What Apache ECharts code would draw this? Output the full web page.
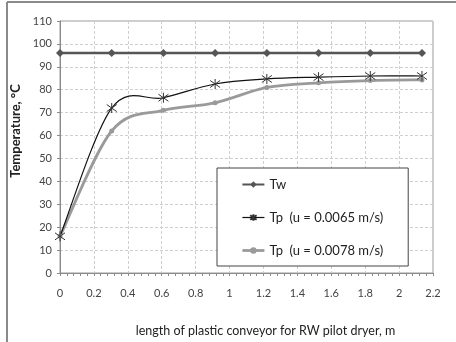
<!DOCTYPE html>
<html>
<head>
    <meta charset="utf-8">
    <title>Temperature along conveyor</title>
    <script type="text/javascript" src="https://cdn.jsdelivr.net/npm/echarts@6/dist/echarts.min.js"></script>
    <style>
        body {
            margin: 0px;
            padding: 0px;
            background: #fff;
        }
        #chart {
            width: 456px;
            height: 342px;
        }
    </style>
</head>
<body>
<div id="chart"></div>
<script type="text/javascript">
    // positions along the conveyor (m) - one foot steps
    var positions = [0, 0.305, 0.61, 0.915, 1.22, 1.525, 1.83, 2.135];
    var tw = [96, 96, 96, 96, 96, 96, 96, 96];
    var tpSlow = [16, 72, 76.5, 82.5, 84.7, 85.5, 86, 86];      // u = 0.0065 m/s
    var tpFast = [16, 62, 71, 74.3, 81, 83, 84, 84.3];          // u = 0.0078 m/s
    var seriesNames = ['Tw', 'Tp  (u = 0.0065 m/s)', 'Tp  (u = 0.0078 m/s)'];

    function pairs(xs, ys) {
        var out = [];
        for (var i = 0; i < xs.length; i++) {
            out.push([xs[i], ys[i]]);
        }
        return out;
    }

    // spreadsheet style smoothing (catmull-rom), one bezier piece per data item
    function smoothCurve(xs, ys, color, width) {
        return function (params, api) {
            var i = params.dataIndex;
            var n = xs.length;
            if (i >= n - 1) {
                return null;
            }
            var p = function (k) {
                k = Math.max(0, Math.min(n - 1, k));
                return api.coord([xs[k], ys[k]]);
            };
            var p0 = p(i - 1), p1 = p(i), p2 = p(i + 1), p3 = p(i + 2);
            var c1 = [p1[0] + (p2[0] - p0[0]) / 6, p1[1] + (p2[1] - p0[1]) / 6];
            var c2 = [p2[0] - (p3[0] - p1[0]) / 6, p2[1] - (p3[1] - p1[1]) / 6];
            return {
                type: 'bezierCurve',
                shape: {
                    x1: p1[0], y1: p1[1],
                    cpx1: c1[0], cpy1: c1[1],
                    cpx2: c2[0], cpy2: c2[1],
                    x2: p2[0], y2: p2[1]
                },
                style: {stroke: color, lineWidth: width, fill: null}
            };
        };
    }

    var font = 'Lato, "Open Sans", sans-serif';
    var starPath = 'path://M5,0L5,10M0,1.5L10,8.5M0,8.5L10,1.5';

    var chart = echarts.init(document.getElementById('chart'));
    var option = {
        animation: false,
        textStyle: {fontFamily: font},
        graphic: [
            {type: 'line', shape: {x1: 7, y1: 2, x2: 7, y2: 342}, style: {stroke: '#8a8a8a', lineWidth: 2}},
            {type: 'line', shape: {x1: 7, y1: 2, x2: 456, y2: 2}, style: {stroke: '#8a8a8a', lineWidth: 2}}
        ],
        grid: {
            left: 60,
            right: 23,
            top: 21,
            bottom: 69,
            show: true,
            borderColor: '#9a9a9a',
            borderWidth: 1
        },
        legend: {
            orient: 'vertical',
            left: 217,
            top: 168,
            data: [
                {name: seriesNames[0]},
                {name: seriesNames[1], lineStyle: {color: '#111', width: 1.2, opacity: 1}},
                {name: seriesNames[2], lineStyle: {color: '#9a9a9a', width: 2.8, opacity: 1}}
            ],
            backgroundColor: '#fff',
            borderColor: '#444',
            borderWidth: 1,
            padding: [10, 25, 9, 24],
            itemGap: 20,
            itemWidth: 22,
            itemHeight: 8,
            textStyle: {fontFamily: font, fontSize: 13, color: '#222'}
        },
        xAxis: {
            type: 'value',
            min: 0,
            max: 2.2,
            interval: 0.2,
            name: 'length of plastic conveyor for RW pilot dryer, m',
            nameLocation: 'middle',
            nameGap: 51,
            nameTextStyle: {fontFamily: font, fontSize: 12.5, color: '#222', padding: [0, 0, 0, 38]},
            axisLine: {lineStyle: {color: '#8a8a8a'}},
            axisTick: {show: true, length: 3, lineStyle: {color: '#8a8a8a'}},
            minorTick: {show: true, splitNumber: 5, length: 3, lineStyle: {color: '#8a8a8a'}},
            axisLabel: {margin: 15, fontSize: 11, color: '#444'},
            splitLine: {show: true, lineStyle: {color: '#cfcfcf', type: [3, 2]}}
        },
        yAxis: {
            type: 'value',
            min: 0,
            max: 110,
            interval: 10,
            name: 'Temperature, °C',
            nameLocation: 'middle',
            nameGap: 33,
            nameTextStyle: {fontFamily: font, fontSize: 13, fontWeight: 'bold', color: '#222', padding: [0, 0, 0, 32]},
            axisLine: {show: true, lineStyle: {color: '#8a8a8a'}},
            axisTick: {show: true, length: 3, lineStyle: {color: '#8a8a8a'}},
            axisLabel: {margin: 8, fontSize: 11, color: '#444'},
            splitLine: {show: true, lineStyle: {color: '#cfcfcf', type: [3, 2]}}
        },
        series: [
            {
                name: 'curveFast',
                type: 'custom',
                data: pairs(positions, tpFast),
                renderItem: smoothCurve(positions, tpFast, '#9a9a9a', 2.8),
                silent: true,
                z: 1
            },
            {
                name: 'curveSlow',
                type: 'custom',
                data: pairs(positions, tpSlow),
                renderItem: smoothCurve(positions, tpSlow, '#111', 1.2),
                silent: true,
                z: 2
            },
            {
                name: seriesNames[0],
                type: 'line',
                data: pairs(positions, tw),
                symbol: 'diamond',
                symbolSize: 8,
                lineStyle: {color: '#555', width: 2.5},
                itemStyle: {color: '#555'},
                z: 5
            },
            {
                name: seriesNames[1],
                type: 'line',
                data: pairs(positions, tpSlow),
                symbol: starPath,
                symbolSize: 10,
                lineStyle: {opacity: 0},
                itemStyle: {color: 'transparent', borderColor: '#333', borderWidth: 1},
                z: 4
            },
            {
                name: seriesNames[2],
                type: 'line',
                data: pairs(positions, tpFast),
                symbol: 'circle',
                symbolSize: 5,
                lineStyle: {opacity: 0},
                itemStyle: {color: '#9a9a9a'},
                z: 3
            }
        ]
    };
    chart.setOption(option);
</script>
</body>
</html>
